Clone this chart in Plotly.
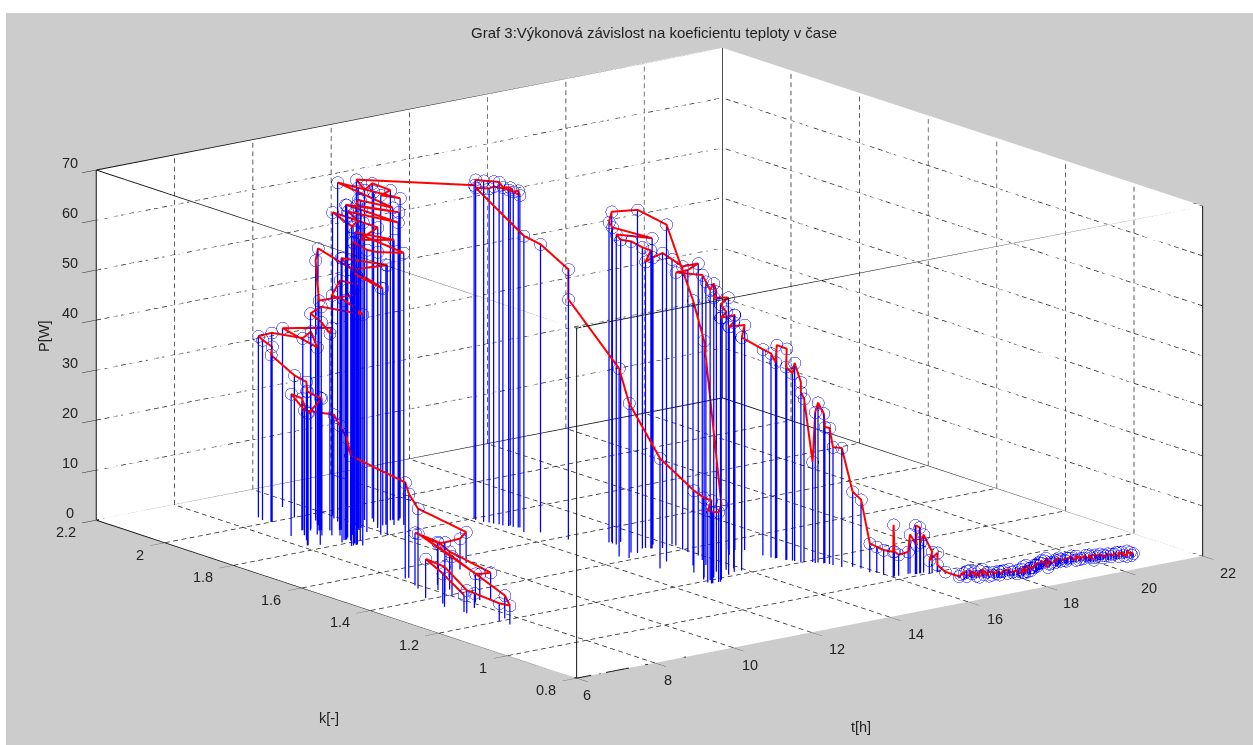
import numpy as np
import plotly.graph_objects as go

TITLE = "Graf 3:Výkonová závislost na koeficientu teploty v čase"
t_ticks = [6, 8, 10, 12, 14, 16, 18, 20, 22]
k_ticks = [0.8, 1, 1.2, 1.4, 1.6, 1.8, 2, 2.2]
k_labels = ["0.8", "1", "1.2", "1.4", "1.6", "1.8", "2", "2.2"]
P_ticks = [0, 10, 20, 30, 40, 50, 60, 70]

# start cluster
t_a = [7.42,7.49,7.49,7.36,7.40,7.77,7.53,7.54,7.76,7.99,7.82,8.06,8.26,8.45,8.28,8.32,7.92,8.07,8.07,9.42,9.84,7.82,8.20,8.11]
k_a = [1.29,1.36,1.41,1.34,1.28,1.30,1.20,1.17,1.21,1.39,1.47,1.33,1.34,1.33,1.43,1.47,1.49,1.44,1.42,1.53,1.56,1.47,1.54,1.54]
P_a = [3.4,6,7.8,8,4.6,3,3.6,3.8,4.6,8,11,5.8,5.2,5.4,7.6,8.6,10.6,9.4,10,6.2,6.2,16,16.8,19.2]
# left rise
t_b = [9.08,9.07,9.41,9.88,8.60,8.35,8.80,8.41,8.17,8.87,8.39,8.39,8.15,8.65,9.31,8.71,8.74,8.67,8.74,8.73,8.82,9.03,8.84,9.62,9.30,9.25,9.12,8.93,9.38]
k_b = [1.81,1.82,1.88,1.95,1.89,1.90,1.92,1.86,1.83,1.87,1.82,1.86,1.83,1.89,2.00,2.00,2.00,2.02,2.04,2.00,1.92,1.92,1.88,2.07,1.89,1.89,1.90,1.91,1.93]
P_b = [17,20.4,21,20.8,25,28.4,26.4,25.4,26.4,27.4,29.4,29.8,30.8,30.6,28.4,33.4,35,36,36.2,37.8,38.4,39.4,37.4,35.8,40.4,39.4,41.6,43.4,43.6]
# tower
t_c = [9.04,9.00,9.04,9.16,8.99,9.18,9.06,9.50,9.30,10.34,9.85,8.96,9.45,8.86,10.42,9.93,9.61,8.93,9.16,9.39,10.00,8.89,9.76,10.12,10.70,9.89,9.01,10.54,9.73,10.30,10.01,9.49,10.02,10.11,8.84,9.80,10.06,9.18,10.82,9.87,9.77,9.04,10.84,9.67,9.97,9.24,10.77,9.80,9.97,10.37,10.96,10.55,10.71,10.51,10.31,10.19]
k_c = [1.77,1.82,1.86,1.85,1.78,1.81,1.90,1.96,1.93,1.86,1.81,1.78,1.88,1.81,1.86,1.80,1.87,1.79,1.81,1.84,1.91,1.78,1.84,1.85,1.84,1.89,1.79,1.85,1.86,1.87,1.88,1.87,1.97,1.92,1.78,1.87,1.93,1.83,1.87,1.87,1.90,1.82,1.87,1.86,1.89,1.80,1.88,1.93,1.89,1.89,1.88,1.89,1.88,1.91,1.91,1.92]
P_c = [46.2,48,48,51,52,49,46,52,55.4,47.4,49.4,54,54.4,56.8,52,54,52,54.8,55.6,57,56,60.6,56.4,55.2,54.4,58.6,62.2,57,58,59.4,60.6,62.8,60.6,58.6,63.8,61.6,61.6,65.2,59.6,63.6,64,67,61.6,65,65,68,62.4,67.8,67.4,66,64,65,66,67,66,68]
# midday plateau and fall
t_e = [12.15,12.10,12.13,12.21,12.26,12.27,12.37,12.36,12.40,12.44,12.33,12.21,12.18,12.10,12.28,12.53,12.63,12.63]
k_e = [1.80,1.79,1.77,1.75,1.74,1.73,1.72,1.71,1.70,1.70,1.72,1.75,1.76,1.79,1.67,1.65,1.58,1.58]
P_e = [66.6,68,68.2,68.4,68.4,67.6,67.6,67,67.4,66.4,67.2,67.4,66.8,66.4,59.2,57.6,54,48]
t_f = [12.61,12.69,12.69,13.03,12.84,12.78,12.77,12.81,12.96,13.12]
k_f = [1.43,1.41,1.32,1.26,1.21,1.18,1.19,1.18,1.18,1.19]
P_f = [37.6,31,22,16.4,16.4,16.6,14.4,14.2,14,15]
# second plateau
t_g = [12.94,13.36,13.12,13.08,13.21,13.14,13.14,13.54,13.15,13.35,13.00,13.38,13.51,13.46,13.74,13.72,14.05,13.97,13.93,13.93,14.06,13.77,13.60,12.92,13.45,13.43,13.10,14.70,13.36,13.68,14.08,13.01,14.78,13.71,13.87,14.46,13.48,14.94,14.78,13.90,14.97]
k_g = [1.22,1.30,1.35,1.43,1.52,1.52,1.51,1.44,1.50,1.51,1.44,1.45,1.44,1.45,1.46,1.43,1.44,1.40,1.35,1.38,1.43,1.32,1.29,1.20,1.25,1.24,1.21,1.35,1.22,1.24,1.30,1.18,1.34,1.22,1.24,1.32,1.21,1.33,1.32,1.22,1.28]
P_g = [47.4,53,67.4,68.6,66,64,63.2,62,62,60.4,62.2,60.2,59.6,57.2,57.4,59,57,56.6,58.4,56.4,54.6,57,56.6,58,57.4,56,56,50.4,54,51.6,48.4,52.8,47,51.4,49.2,45.6,49.6,45,43,46.6,41.2]
# afternoon decline
t_h = [15.00,15.03,15.06,15.14,15.12,15.20,15.21,15.24,15.24,15.32,15.45,15.43,15.50,15.56,15.59,15.62,15.62,15.67,15.86,15.90,15.86,15.95,15.95]
k_h = [1.26,1.25,1.25,1.23,1.23,1.22,1.215,1.20,1.20,1.20,1.19,1.18,1.18,1.17,1.17,1.16,1.15,1.13,1.12,1.10,1.07,1.06,1.04]
P_h = [40.8,39.2,42.6,42.2,38.6,37.4,39.6,36,34,32.6,20,30.2,32,30,27.2,27.2,23.6,23.8,15,13.8,5.8,5.2,5]
t_i = [16.02,16.03,16.05,16.16,16.40,16.45,16.53,16.50,16.61,16.63,16.71,16.84,16.77,16.98,16.97,17.00]
k_i = [1.02,1.02,1.02,1.02,1.02,1.02,1.01,1.01,1.01,1.01,1.01,1.00,1.00,1.00,1.00,0.98]
P_i = [5,10.4,5,4.2,4.4,7.8,5.8,9.8,9.2,6.2,7.6,4.2,2.6,3.8,1.4,0.4]
# evening band
t_j = [17.00,17.04,17.08,17.11,17.15,17.19,17.23,17.27,17.31,17.35,
       17.39,17.42,17.46,17.50,17.54,17.58,17.62,17.66,17.70,17.73,
       17.77,17.81,17.85,17.89,17.93,17.97,18.01,18.04,18.08,18.12,
       18.16,18.20,18.24,18.28,18.32,18.36,18.40,18.44,18.48,18.52,
       18.56,18.60,18.64,18.68,18.72,18.76,18.80,18.84,18.88,18.92,
       18.96,19.00,19.04,19.08,19.12,19.16,19.20,19.24,19.28,19.32,
       19.36,19.40,19.44,19.48,19.52,19.56,19.60,19.64,19.68,19.72,
       19.76,19.80,19.84,19.88,19.92,19.96,20.00,20.04,20.08,20.12,
       20.16,20.20,20.24,20.28,20.32,20.36,20.40,20.44,20.48,20.52,
       20.56,20.60,20.64,20.68,20.72,20.76,20.80,20.84]
k_j = [.94,.93,.945,.93,.935,.925,.935,.92,.93,.92,
       .925,.915,.925,.91,.92,.905,.915,.90,.91,.905,
       .91,.90,.91,.895,.905,.89,.90,.885,.895,.88,
       .89,.885,.895,.885,.90,.89,.905,.895,.90,.89,
       .905,.895,.91,.90,.915,.905,.92,.91,.915,.90,
       .915,.905,.92,.91,.915,.90,.91,.905,.92,.91,
       .915,.90,.91,.905,.915,.905,.91,.90,.905,.895,
       .905,.89,.90,.885,.895,.885,.90,.89,.895,.885,
       .895,.885,.89,.88,.89,.88,.885,.875,.885,.875,
       .88,.87,.88,.87,.875,.865,.875,.87]
P_j = [.4,1.2,.6,1.5,.3,1.0,1.4,.5,1.1,.2,
       1.3,.7,1.5,.4,.9,1.2,.3,1.4,.6,1.0,
       .2,1.3,.8,1.5,.4,1.1,.6,1.4,.3,.9,
       1.2,.5,1.5,.7,.2,1.1,1.3,.4,.8,1.4,
       .6,1.0,.3,1.5,.7,1.2,.4,.9,1.3,.2,
       1.1,.6,1.4,.8,.3,1.2,.5,1.5,.7,1.0,
       .4,1.3,.6,1.1,.2,1.4,.8,.5,1.2,.9,
       .3,1.5,.6,1.0,1.3,.4,.8,1.2,.5,1.4,
       .7,1.0,.3,1.3,.6,1.1,.4,1.4,.8,.5,
       1.2,.7,1.0,.4,1.3,.6,.9,.7]

t = t_a + t_b + t_c + t_e + t_f + t_g + t_h + t_i + t_j
k = k_a + k_b + k_c + k_e + k_f + k_g + k_h + k_i + k_j
P = P_a + P_b + P_c + P_e + P_f + P_g + P_h + P_i + P_j

t0, t1, k0, k1, p0, p1 = t_ticks[0], t_ticks[-1], k_ticks[0], k_ticks[-1], P_ticks[0], P_ticks[-1]

stem_x, stem_y, stem_z = [], [], []
for a, b, c in zip(t, k, P):
    stem_x += [a, a, None]; stem_y += [b, b, None]; stem_z += [0, c, None]

# dashed grid: each tick line is cut into short pieces
grid_x, grid_y, grid_z = [], [], []
def dashed(a, b, n):
    a, b = np.array(a, float), np.array(b, float)
    for i in range(n):
        p = a + (b - a) * i / n
        q = a + (b - a) * (i + 0.58) / n
        grid_x.extend([p[0], q[0], None]); grid_y.extend([p[1], q[1], None]); grid_z.extend([p[2], q[2], None])
N_T, N_K, N_P = 76, 60, 42
for v in t_ticks[1:-1]:
    dashed((v, k0, p0), (v, k1, p0), N_K); dashed((v, k1, p0), (v, k1, p1), N_P)
for v in k_ticks[1:-1]:
    dashed((t0, v, p0), (t1, v, p0), N_T); dashed((t1, v, p0), (t1, v, p1), N_P)
for v in P_ticks[1:-1]:
    dashed((t0, k1, v), (t1, k1, v), N_T); dashed((t1, k0, v), (t1, k1, v), N_K)

box_x, box_y, box_z = [], [], []
def bseg(a, b):
    box_x.extend([a[0], b[0], None]); box_y.extend([a[1], b[1], None]); box_z.extend([a[2], b[2], None])
for yy in (k0, k1):
    for zz in (p0, p1):
        bseg((t0, yy, zz), (t1, yy, zz))
for xx in (t0, t1):
    for zz in (p0, p1):
        bseg((xx, k0, zz), (xx, k1, zz))
for xx in (t0, t1):
    for yy in (k0, k1):
        bseg((xx, yy, p0), (xx, yy, p1))

fig = go.Figure()
fig.add_trace(go.Scatter3d(x=grid_x, y=grid_y, z=grid_z, mode="lines", line=dict(color="#222222", width=1.5), hoverinfo="skip", showlegend=False))
fig.add_trace(go.Scatter3d(x=box_x, y=box_y, z=box_z, mode="lines", line=dict(color="#111111", width=2), hoverinfo="skip", showlegend=False))
fig.add_trace(go.Scatter3d(x=stem_x, y=stem_y, z=stem_z, mode="lines", line=dict(color="#0000ff", width=2.5), hoverinfo="skip", showlegend=False))
fig.add_trace(go.Scatter3d(x=t, y=k, z=P, mode="lines", line=dict(color="#ff0000", width=4), showlegend=False))
fig.add_trace(go.Scatter3d(x=t, y=k, z=P, mode="markers", marker=dict(symbol="circle", size=7, color="rgba(255,255,255,0)", line=dict(color="#0000ff", width=3)), showlegend=False))

FONT = dict(family="Liberation Sans, Arial, sans-serif", size=14.5, color="#222222")
ann = []
t_shift = [10, 13, 17, 25, 26, 27, 25, 25, 25]
for v, s in zip(t_ticks, t_shift):
    ann.append(dict(x=v, y=k0, z=p0, text=str(v), showarrow=False, xshift=s, yshift=-17, font=FONT))
k_shift = [-31, -25, -31, -31, -31, -31, -25, -31]
for v, lab, s in zip(k_ticks, k_labels, k_shift):
    ann.append(dict(x=t0, y=v, z=p0, text=lab, showarrow=False, xshift=s, yshift=-12, font=FONT))
for v in P_ticks:
    ann.append(dict(x=t0, y=k1, z=v, text=str(v), showarrow=False, xshift=-27, yshift=7, font=FONT))

axis = dict(showgrid=False, zeroline=False, showline=False, showticklabels=False, title=dict(text=""),
            showbackground=True, backgroundcolor="white", showspikes=False, ticks="outside", ticklen=18, tickcolor="#222222", tickwidth=1)

R = 1.9
SCALE = 2.177
ex, ey, ez = -0.590, -0.766, 0.2533
FONT_T = dict(FONT, size=15)
fig.update_layout(
    width=1253, height=745, margin=dict(l=0, r=0, t=0, b=0), autosize=False, paper_bgcolor="white", showlegend=False,
    shapes=[dict(type="rect", xref="paper", yref="paper", x0=6/1253, x1=1, y0=0, y1=1-13/745, fillcolor="#cccccc", line=dict(width=0), layer="below")],
    annotations=[
        dict(xref="paper", yref="paper", x=654/1253, y=1-32/745, xanchor="center", yanchor="middle", text=TITLE, showarrow=False, font=FONT_T),
        dict(xref="paper", yref="paper", x=861/1253, y=1-727/745, xanchor="center", yanchor="middle", text="t[h]", showarrow=False, font=FONT),
        dict(xref="paper", yref="paper", x=329/1253, y=1-718/745, xanchor="center", yanchor="middle", text="k[-]", showarrow=False, font=FONT),
        dict(xref="paper", yref="paper", x=44/1253, y=1-337/745, xanchor="center", yanchor="middle", text="P[W]", textangle=-90, showarrow=False, font=FONT),
    ],
    scene=dict(
        domain=dict(x=[0.037, 1], y=[0.0256, 1]),
        xaxis=dict(axis, range=[t0, t1], tickvals=t_ticks),
        yaxis=dict(axis, range=[k0, k1], tickvals=k_ticks, ticks="inside"),
        zaxis=dict(axis, range=[p0, p1], tickvals=P_ticks),
        aspectmode="manual", aspectratio=dict(x=1*SCALE, y=0.996*SCALE, z=0.458*SCALE),
        camera=dict(projection=dict(type="orthographic"), up=dict(x=0, y=0, z=1), center=dict(x=0, y=0, z=0),
                    eye=dict(x=ex*R, y=ey*R, z=ez*R)),
        annotations=ann,
    ),
)
fig.write_html("out.html", config={"displayModeBar": False}, post_script="document.body.style.margin='0';document.body.style.overflow='hidden';")
